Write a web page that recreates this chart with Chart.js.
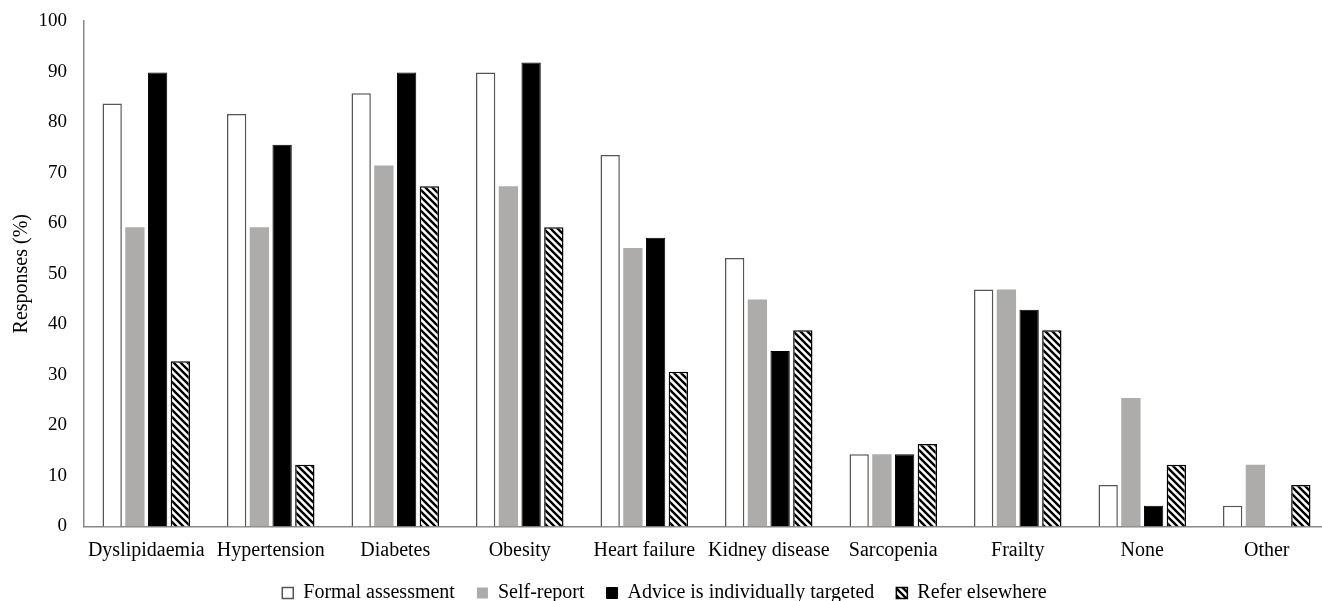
<!DOCTYPE html>
<html>
<head>
<meta charset="utf-8">
<script src="https://cdn.jsdelivr.net/npm/chart.js@4.4.1/dist/chart.umd.min.js"></script>
<style>
  html, body { margin: 0; padding: 0; background: #fff; overflow: hidden; }
  #wrap { width: 1329px; height: 613px; }
</style>
</head>
<body>
<div id="wrap"><canvas id="chart"></canvas></div>
<script>
const categories = ['Dyslipidaemia', 'Hypertension', 'Diabetes', 'Obesity', 'Heart failure',
  'Kidney disease', 'Sarcopenia', 'Frailty', 'None', 'Other'];
const formalAssessment = [83.7, 81.6, 85.7, 89.8, 73.5, 53.1, 14.3, 46.9, 8.2, 4.1];
const selfReport = [59.2, 59.2, 71.4, 67.3, 55.1, 44.9, 14.3, 46.9, 25.4, 12.2];
const adviceTargeted = [89.8, 75.5, 89.8, 91.8, 57.1, 34.7, 14.3, 42.9, 4.1, 0];
const referElsewhere = [32.7, 12.2, 67.3, 59.2, 30.6, 38.8, 16.3, 38.8, 12.2, 8.2];

const serif = '"Liberation Serif", "Times New Roman", serif';

function makeHatch() {
  const size = 7;
  const c = document.createElement('canvas');
  c.width = size;
  c.height = size;
  const g = c.getContext('2d');
  g.fillStyle = '#fff';
  g.fillRect(0, 0, size, size);
  g.strokeStyle = '#000';
  g.lineWidth = 2.4;
  g.beginPath();
  g.moveTo(-2, -2); g.lineTo(size + 2, size + 2);
  g.moveTo(-2, size - 2); g.lineTo(2, size + 2);
  g.moveTo(size - 2, -2); g.lineTo(size + 2, 2);
  g.stroke();
  return g.createPattern(c, 'repeat');
}

const ctx = document.getElementById('chart').getContext('2d');
const hatch = makeHatch();

new Chart(ctx, {
  type: 'bar',
  data: {
    labels: categories,
    datasets: [
      { label: 'Formal assessment', data: formalAssessment, backgroundColor: '#fff', borderColor: '#555', borderWidth: 1.5 },
      { label: 'Self-report', data: selfReport, backgroundColor: '#aeabab', borderColor: '#aeabab', borderWidth: 0 },
      { label: 'Advice is individually targeted', data: adviceTargeted, backgroundColor: '#000', borderColor: '#000', borderWidth: 1 },
      { label: 'Refer elsewhere', data: referElsewhere, backgroundColor: hatch, borderColor: '#000', borderWidth: 1.5 }
    ]
  },
  options: {
    responsive: true,
    maintainAspectRatio: false,
    animation: false,
    layout: { padding: { top: 21, left: 0, right: 0, bottom: 0 } },
    datasets: { bar: { categoryPercentage: 0.73, barPercentage: 0.85 } },
    plugins: {
      legend: {
        position: 'bottom',
        labels: {
          color: '#000',
          font: { family: serif, size: 20 },
          boxWidth: 11,
          boxHeight: 11,
          padding: 22
        }
      },
      tooltip: { enabled: false }
    },
    scales: {
      x: {
        grid: { display: false, drawTicks: false },
        border: { display: true, color: '#888', width: 1.5 },
        ticks: { color: '#000', font: { family: serif, size: 20 }, padding: 12, maxRotation: 0, autoSkip: false },
        afterFit: (scale) => { scale.height = 34.5; }
      },
      y: {
        min: 0,
        max: 100,
        grid: { display: false, drawTicks: false },
        border: { display: true, color: '#888', width: 1.5 },
        ticks: { stepSize: 10, color: '#000', font: { family: serif, size: 19 }, padding: 17 },
        title: { display: true, text: 'Responses (%)', color: '#000', font: { family: serif, size: 20 }, padding: { top: 10, bottom: 0 } },
        afterFit: (scale) => {
          scale.width = 84;
          scale.paddingTop = 0;
          scale.paddingBottom = 0;
        }
      }
    }
  }
});
</script>
</body>
</html>
